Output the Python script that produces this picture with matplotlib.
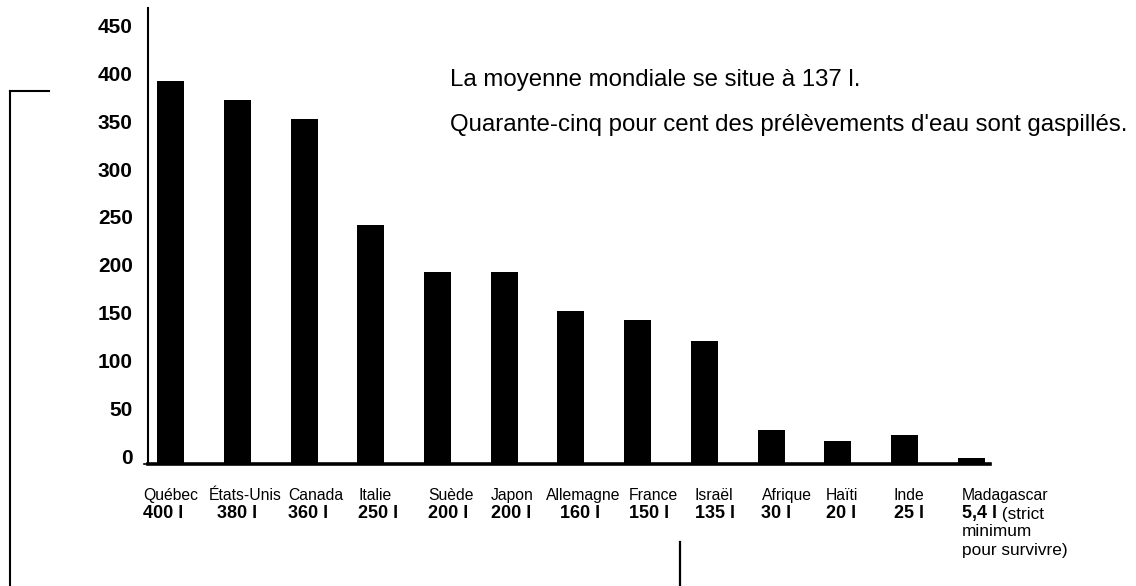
import matplotlib
matplotlib.use("Agg")
import matplotlib.pyplot as plt
from matplotlib import font_manager
from matplotlib.lines import Line2D
import matplotlib.transforms as mtransforms

# ---- data ----
countries = ["Québec", "États-Unis", "Canada", "Italie", "Suède", "Japon",
             "Allemagne", "France", "Israël", "Afrique", "Haïti", "Inde", "Madagascar"]
bar_values = [400, 380, 360, 250, 200, 200, 160, 150, 128, 35, 24, 30, 6.5]
value_labels = ["400 l", "380 l", "360 l", "250 l", "200 l", "200 l", "160 l",
                "150 l", "135 l", "30 l", "20 l", "25 l", "5,4 l"]
y_ticks = [0, 50, 100, 150, 200, 250, 300, 350, 400, 450]
note_lines = ["La moyenne mondiale se situe à 137 l.",
              "Quarante-cinq pour cent des prélèvements d'eau sont gaspillés."]
madagascar_extra = [" (strict", "minimum", "pour survivre)"]

# ---- layout (pixel-derived offsets) ----
name_dx_px = [-27.5, -28.25, -16, -12, -9.5, -13.5, -25, -8.75, -9.5, -9.5, -12, -10.75, -9.5]
value_dx_px = [-27.5, -20.25, -16, -12.75, -9.5, -13.5, -11, -8.75, -9.5, -10.25, -12, -10.75, -9.5]
step_px = 66.75

names = {f.name for f in font_manager.fontManager.ttflist}
fam = "Liberation Sans Narrow" if "Liberation Sans Narrow" in names else "Liberation Sans"
plt.rcParams["font.family"] = [fam, "DejaVu Sans"]

W, H = 1136, 586
fig = plt.figure(figsize=(W / 100, H / 100), dpi=100)
ax_l, ax_r, ax_b, ax_t = 148, 990, 464, 8
ax = fig.add_axes([ax_l / W, (H - ax_b) / H, (ax_r - ax_l) / W, (ax_b - ax_t) / H])

x = list(range(len(countries)))
ax.bar(x, bar_values, width=27 / step_px, color="black", zorder=2)

x0 = (ax_l - 170.5) / step_px
x1 = (ax_r - 170.5) / step_px
ax.set_xlim(x0, x1)
ax.set_ylim(0, (ax_b - ax_t) / 0.958)

for s in ["top", "right"]:
    ax.spines[s].set_visible(False)
ax.spines["left"].set_linewidth(1.5)
ax.spines["bottom"].set_linewidth(2.6)
ax.spines["bottom"].set_zorder(3)
ax.set_xticks([])
ax.set_yticks(y_ticks)
ax.set_yticklabels([str(v) for v in y_ticks], fontsize=15, fontweight="bold")
ax.tick_params(axis="y", length=0, pad=11)
for lbl in ax.get_yticklabels():
    lbl.set_va("baseline")

# small extension of x-axis to the left
ax.plot([x0 - 4 / step_px, x0], [0, 0], color="black", lw=1.2, clip_on=False)

trans = mtransforms.blended_transform_factory(ax.transData, ax.transAxes)
def yfrac(py):
    return (ax_b - py) / (ax_b - ax_t)

NAME_FS = 11.3
VAL_FS = 13
EXTRA_FS = 12.4
for i, (c, v) in enumerate(zip(countries, value_labels)):
    ax.text(i + name_dx_px[i] / step_px, yfrac(500), c, transform=trans,
            fontsize=NAME_FS, va="baseline", ha="left")
    t = ax.text(i + value_dx_px[i] / step_px, yfrac(518), v, transform=trans,
                fontsize=VAL_FS, fontweight="bold", va="baseline", ha="left")
    if i == len(countries) - 1:
        ax.annotate(madagascar_extra[0], xy=(1, 0), xycoords=t, fontsize=EXTRA_FS,
                    va="bottom", ha="left")
        ax.text(i + value_dx_px[i] / step_px, yfrac(536.5), madagascar_extra[1],
                transform=trans, fontsize=EXTRA_FS, va="baseline", ha="left")
        ax.text(i + value_dx_px[i] / step_px, yfrac(555), madagascar_extra[2],
                transform=trans, fontsize=EXTRA_FS, va="baseline", ha="left")

NOTE_FS = 17.3
ax.text((450 - ax_l) / (ax_r - ax_l), yfrac(86), note_lines[0], transform=ax.transAxes,
        fontsize=NOTE_FS, va="baseline", ha="left")
ax.text((450 - ax_l) / (ax_r - ax_l), yfrac(130.5), note_lines[1], transform=ax.transAxes,
        fontsize=NOTE_FS, va="baseline", ha="left")

# decorative lines
def fx(px): return px / W
def fy(py): return (H - py) / H
fig.add_artist(Line2D([fx(10), fx(10)], [fy(91), fy(586)], color="black", lw=1.5))
fig.add_artist(Line2D([fx(10), fx(49)], [fy(91), fy(91)], color="black", lw=1.5))
fig.add_artist(Line2D([fx(679.5), fx(679.5)], [fy(542), fy(586)], color="black", lw=1.6))

fig.savefig("out.png", dpi=100)
